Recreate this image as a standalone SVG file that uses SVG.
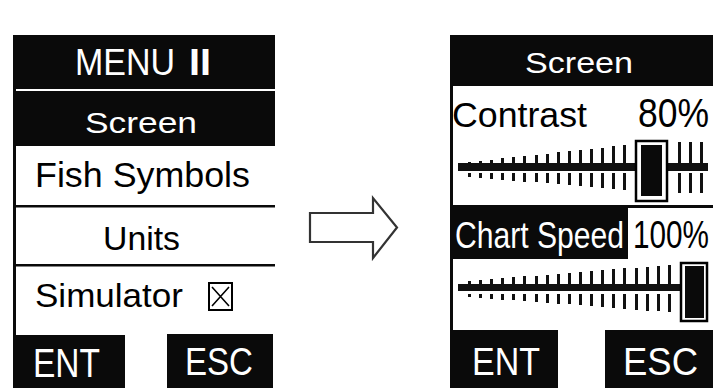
<svg xmlns="http://www.w3.org/2000/svg" width="713" height="388" viewBox="0 0 713 388">
<style>
.t{font-family:"Liberation Sans",Arial,sans-serif;}
.w{fill:#fff;}
.k{fill:#000;}
.blk{fill:#0a0a0a;}
.tick{fill:#111;}
.arrow{fill:#fff;stroke:#333;stroke-width:2.2;stroke-linejoin:miter;}
</style>
<rect width="713" height="388" fill="#fff"/>

<g id="menu2">
  <rect x="13" y="35" width="3" height="353" class="blk"/>
  <rect x="14" y="35" width="261" height="54" class="blk"/>
  <text class="t w" x="75" y="75" font-size="36" textLength="100" lengthAdjust="spacingAndGlyphs">MENU</text>
  <text class="t w" x="189" y="75" font-size="36" font-weight="bold" textLength="22" lengthAdjust="spacingAndGlyphs">II</text>
  <rect x="14" y="91" width="261" height="55" class="blk"/>
  <text class="t w" x="85" y="133" font-size="29" textLength="112" lengthAdjust="spacingAndGlyphs">Screen</text>
  <text class="t k" x="35" y="187" font-size="35" textLength="215" lengthAdjust="spacingAndGlyphs">Fish Symbols</text>
  <rect x="14" y="205" width="261" height="2.5" class="blk"/>
  <text class="t k" x="103" y="250" font-size="33" textLength="77" lengthAdjust="spacingAndGlyphs">Units</text>
  <rect x="14" y="264" width="261" height="2.5" class="blk"/>
  <text class="t k" x="35" y="307" font-size="34" textLength="148" lengthAdjust="spacingAndGlyphs">Simulator</text>
  <rect x="209" y="283" width="23" height="27" fill="none" stroke="#000" stroke-width="2"/>
  <path d="M212 287 L229 306 M229 287 L212 306" stroke="#000" stroke-width="1.6"/>
  <rect x="14" y="335" width="111" height="53" class="blk"/>
  <text class="t w" x="33" y="377" font-size="40" textLength="67" lengthAdjust="spacingAndGlyphs">ENT</text>
  <rect x="167" y="334" width="106" height="54" class="blk"/>
  <text class="t w" x="185" y="375" font-size="38" textLength="68" lengthAdjust="spacingAndGlyphs">ESC</text>
</g>

<g id="connectors">
  <polygon class="arrow" points="310,213 373,213 373,198 397,227.5 373,258 373,242 310,242"/>
</g>

<g id="screen">
  <rect x="450" y="35" width="3" height="353" class="blk"/>
  <rect x="450" y="35" width="263" height="51" class="blk"/>
  <text class="t w" x="525" y="73" font-size="29" textLength="108" lengthAdjust="spacingAndGlyphs">Screen</text>
  <text class="t k" x="452" y="127" font-size="35" textLength="135" lengthAdjust="spacingAndGlyphs">Contrast</text>
  <text class="t k" x="638" y="127" font-size="40" textLength="71" lengthAdjust="spacingAndGlyphs">80%</text>

  <g id="slider1">
    <rect x="458" y="163" width="250" height="8" class="tick"/>
    <g class="tick">
      <rect x="468" y="162" width="3" height="2"/><rect x="468" y="173" width="3" height="4"/>
      <rect x="479" y="161" width="3" height="3"/><rect x="479" y="173" width="3" height="5"/>
      <rect x="490" y="160" width="3" height="4"/><rect x="490" y="173" width="3" height="6"/>
      <rect x="501" y="158" width="3" height="6"/><rect x="501" y="173" width="3" height="7"/>
      <rect x="512" y="157" width="3" height="7"/><rect x="512" y="173" width="3" height="8"/>
      <rect x="523" y="156" width="3" height="8"/><rect x="523" y="173" width="3" height="9"/>
      <rect x="535" y="155" width="3" height="9"/><rect x="535" y="173" width="3" height="9"/>
      <rect x="546" y="154" width="3" height="10"/><rect x="546" y="173" width="3" height="10"/>
      <rect x="557" y="152" width="3" height="12"/><rect x="557" y="173" width="3" height="11"/>
      <rect x="568" y="151" width="3" height="13"/><rect x="568" y="173" width="3" height="12"/>
      <rect x="579" y="150" width="3" height="14"/><rect x="579" y="173" width="3" height="13"/>
      <rect x="590" y="149" width="3" height="15"/><rect x="590" y="173" width="3" height="14"/>
      <rect x="601" y="148" width="3" height="16"/><rect x="601" y="173" width="3" height="15"/>
      <rect x="612" y="146" width="3" height="18"/><rect x="612" y="173" width="3" height="16"/>
      <rect x="623" y="145" width="3" height="19"/><rect x="623" y="173" width="3" height="17"/>
      <rect x="678" y="142" width="3" height="22"/><rect x="678" y="173" width="3" height="20"/>
      <rect x="689" y="142" width="3" height="22"/><rect x="689" y="173" width="3" height="20"/>
      <rect x="700" y="142" width="3" height="22"/><rect x="700" y="173" width="3" height="20"/>
    </g>
    <rect x="636" y="141" width="31" height="60" fill="#fff" stroke="#000" stroke-width="2.5"/>
    <rect x="641" y="145" width="21" height="51" class="blk"/>
  </g>

  <rect x="450" y="205" width="263" height="3" class="blk"/>
  <rect x="450" y="207" width="178" height="52" class="blk"/>
  <text class="t w" x="455" y="248" font-size="36" textLength="169" lengthAdjust="spacingAndGlyphs">Chart Speed</text>
  <text class="t k" x="633" y="248" font-size="39" textLength="76" lengthAdjust="spacingAndGlyphs">100%</text>

  <g id="slider2">
    <rect x="458" y="284" width="222" height="7" class="tick"/>
    <g class="tick">
      <rect x="468" y="281" width="3" height="3"/><rect x="468" y="294" width="3" height="3"/>
      <rect x="479" y="280" width="3" height="4"/><rect x="479" y="294" width="3" height="4"/>
      <rect x="490" y="279" width="3" height="5"/><rect x="490" y="294" width="3" height="5"/>
      <rect x="501" y="278" width="3" height="6"/><rect x="501" y="294" width="3" height="6"/>
      <rect x="512" y="277" width="3" height="7"/><rect x="512" y="294" width="3" height="6"/>
      <rect x="523" y="276" width="3" height="8"/><rect x="523" y="294" width="3" height="7"/>
      <rect x="535" y="276" width="3" height="8"/><rect x="535" y="294" width="3" height="8"/>
      <rect x="546" y="275" width="3" height="9"/><rect x="546" y="294" width="3" height="9"/>
      <rect x="557" y="274" width="3" height="10"/><rect x="557" y="294" width="3" height="10"/>
      <rect x="568" y="273" width="3" height="11"/><rect x="568" y="294" width="3" height="10"/>
      <rect x="579" y="272" width="3" height="12"/><rect x="579" y="294" width="3" height="11"/>
      <rect x="590" y="271" width="3" height="13"/><rect x="590" y="294" width="3" height="12"/>
      <rect x="601" y="270" width="3" height="14"/><rect x="601" y="294" width="3" height="13"/>
      <rect x="612" y="269" width="3" height="15"/><rect x="612" y="294" width="3" height="14"/>
      <rect x="623" y="268" width="3" height="16"/><rect x="623" y="294" width="3" height="15"/>
      <rect x="635" y="268" width="3" height="16"/><rect x="635" y="294" width="3" height="16"/>
      <rect x="646" y="267" width="3" height="17"/><rect x="646" y="294" width="3" height="17"/>
      <rect x="657" y="266" width="3" height="18"/><rect x="657" y="294" width="3" height="17"/>
      <rect x="668" y="265" width="3" height="19"/><rect x="668" y="294" width="3" height="18"/>
    </g>
    <rect x="681" y="263" width="26" height="58" fill="#fff" stroke="#000" stroke-width="2.5"/>
    <rect x="685" y="266" width="19" height="52" class="blk"/>
  </g>

  <rect x="450" y="330" width="108" height="58" class="blk"/>
  <text class="t w" x="472" y="375" font-size="39" textLength="68" lengthAdjust="spacingAndGlyphs">ENT</text>
  <rect x="605" y="330" width="108" height="58" class="blk"/>
  <text class="t w" x="623" y="375" font-size="39" textLength="75" lengthAdjust="spacingAndGlyphs">ESC</text>
</g>
</svg>
